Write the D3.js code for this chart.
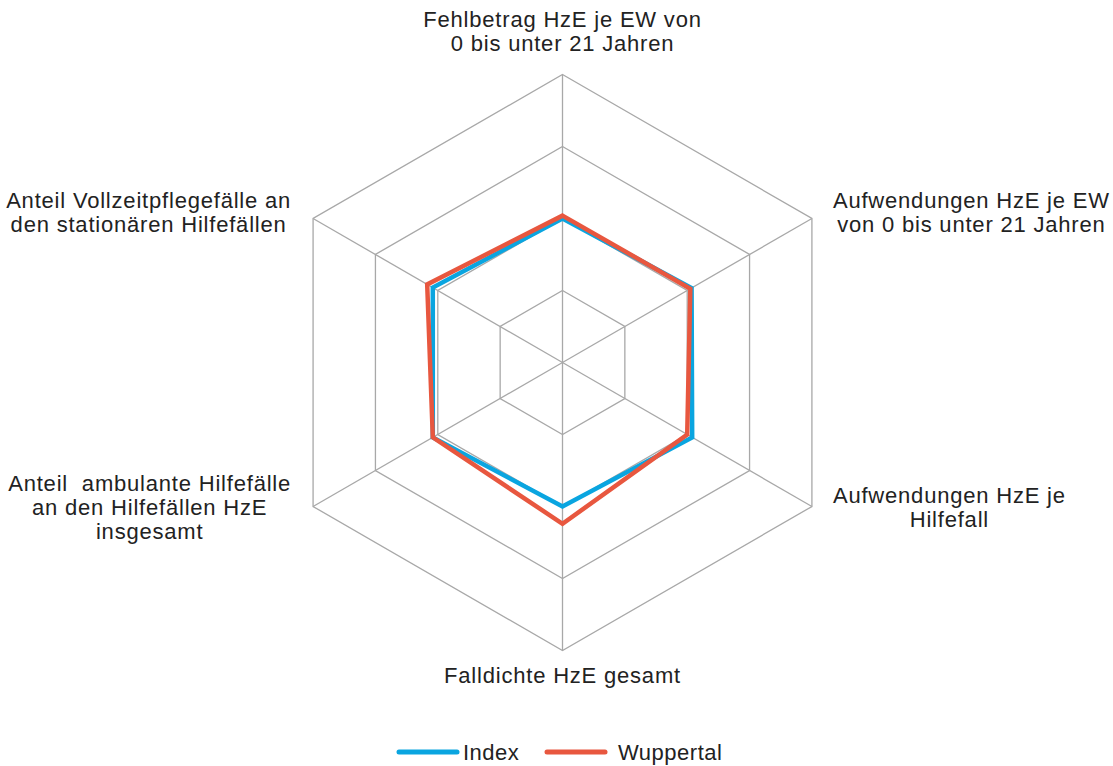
<!DOCTYPE html>
<html>
<head>
<meta charset="utf-8">
<script src="https://cdn.jsdelivr.net/npm/d3@7"></script>
<style>
  body { margin: 0; background: #fff; }
  text { font-family: "Liberation Sans", Arial, sans-serif; fill: #222; }
</style>
</head>
<body>
<div id="viz"></div>
<script>
// axis labels, clockwise from the top
var axes = [
    ["Fehlbetrag HzE je EW von", "0 bis unter 21 Jahren"],
    ["Aufwendungen HzE je EW", "von 0 bis unter 21 Jahren"],
    ["Aufwendungen HzE je", "Hilfefall"],
    ["Falldichte HzE gesamt"],
    ["Anteil  ambulante Hilfefälle", "an den Hilfefällen HzE", "insgesamt"],
    ["Anteil Vollzeitpflegefälle an", "den stationären Hilfefällen"]
];
var seriesNames = ["Index", "Wuppertal"];
var indexValues = [100, 103.5, 104, 100, 104, 104];
var wuppertalValues = [102, 102.5, 100, 112, 104, 108.5];
var ringTicks = [50, 100, 150, 200];

var colors = {Index: "#0aa5e0", Wuppertal: "#e8573f"};

var width = 1113, height = 766;
var cx = 562.5, cy = 362.5;

var svg = d3.select("#viz").append("svg")
    .attr("width", width)
    .attr("height", height);

var rScale = d3.scaleLinear()
    .domain([0, 200])
    .range([0, 288]);

var angle = function(i) { return i * Math.PI * 2 / axes.length; };
function point(i, v) {
    var a = angle(i);
    return [cx + rScale(v) * Math.sin(a), cy - rScale(v) * Math.cos(a)];
}

var g = svg.append("g");

// rings
g.selectAll(".ring")
    .data(ringTicks)
    .enter()
    .append("polygon")
    .attr("class", "ring")
    .attr("points", function(t) {
        return axes.map(function(d, i) { return point(i, t).join(","); }).join(" ");
    })
    .attr("fill", "none")
    .attr("stroke", "#a8a8a8")
    .attr("stroke-width", 1.3);

// spokes
g.selectAll(".spoke")
    .data(axes)
    .enter()
    .append("line")
    .attr("class", "spoke")
    .attr("x1", cx).attr("y1", cy)
    .attr("x2", function(d, i) { return point(i, 200)[0]; })
    .attr("y2", function(d, i) { return point(i, 200)[1]; })
    .attr("stroke", "#a8a8a8")
    .attr("stroke-width", 1.3);

// series
var series = [
    {name: "Index", values: indexValues},
    {name: "Wuppertal", values: wuppertalValues}
];
var line = d3.line()
    .x(function(d) { return d[0]; })
    .y(function(d) { return d[1]; })
    .curve(d3.curveLinearClosed);

g.selectAll(".series")
    .data(series)
    .enter()
    .append("path")
    .attr("class", "series")
    .attr("d", function(s) {
        return line(s.values.map(function(v, i) { return point(i, v); }));
    })
    .attr("fill", "none")
    .attr("stroke", function(s) { return colors[s.name]; })
    .attr("stroke-width", 4.5)
    .attr("stroke-linejoin", "miter");

// axis labels
var lineH = 24;
axes.forEach(function(lines, i) {
    var p = point(i, 200);
    var t = g.append("text")
        .attr("font-size", "22px")
        .attr("letter-spacing", "0.8px")
        .attr("text-anchor", "middle");
    lines.forEach(function(l, j) {
        t.append("tspan")
            .attr("x", 0)
            .attr("dy", j == 0 ? 0 : lineH)
            .attr("xml:space", "preserve")
            .style("white-space", "pre")
            .text(l);
    });
    var w = 0;
    t.selectAll("tspan").each(function() { w = Math.max(w, this.getComputedTextLength()); });
    var n = lines.length;
    var x, y;
    var s = Math.sin(angle(i)), c = Math.cos(angle(i));
    if (Math.abs(s) < 0.01) {
        x = p[0];
        if (c > 0) y = p[1] - 24 - (n - 1) * lineH;
        else y = p[1] + 32;
    } else {
        x = s > 0 ? p[0] + 21 + w / 2 : p[0] - 22 - w / 2;
        y = p[1] - (n - 1) * lineH / 2 + 5 - 7 * c;
    }
    t.attr("transform", "translate(" + x + "," + y + ")");
});

// legend
var legend = svg.append("g")
    .attr("transform", "translate(399,752)");
var lg = legend.selectAll(".leg")
    .data(seriesNames)
    .enter()
    .append("g")
    .attr("class", "leg")
    .attr("transform", function(d, i) { return "translate(" + (i * 148) + ",0)"; });
lg.append("line")
    .attr("x1", 0).attr("x2", 58)
    .attr("y1", 0).attr("y2", 0)
    .attr("stroke", function(d) { return colors[d]; })
    .attr("stroke-width", 5)
    .attr("stroke-linecap", "round");
lg.append("text")
    .attr("x", function(d, i) { return i == 0 ? 64 : 71; })
    .attr("y", 8)
    .attr("font-size", "22px")
    .attr("letter-spacing", "0.5px")
    .text(function(d) { return d; });
</script>
</body>
</html>
